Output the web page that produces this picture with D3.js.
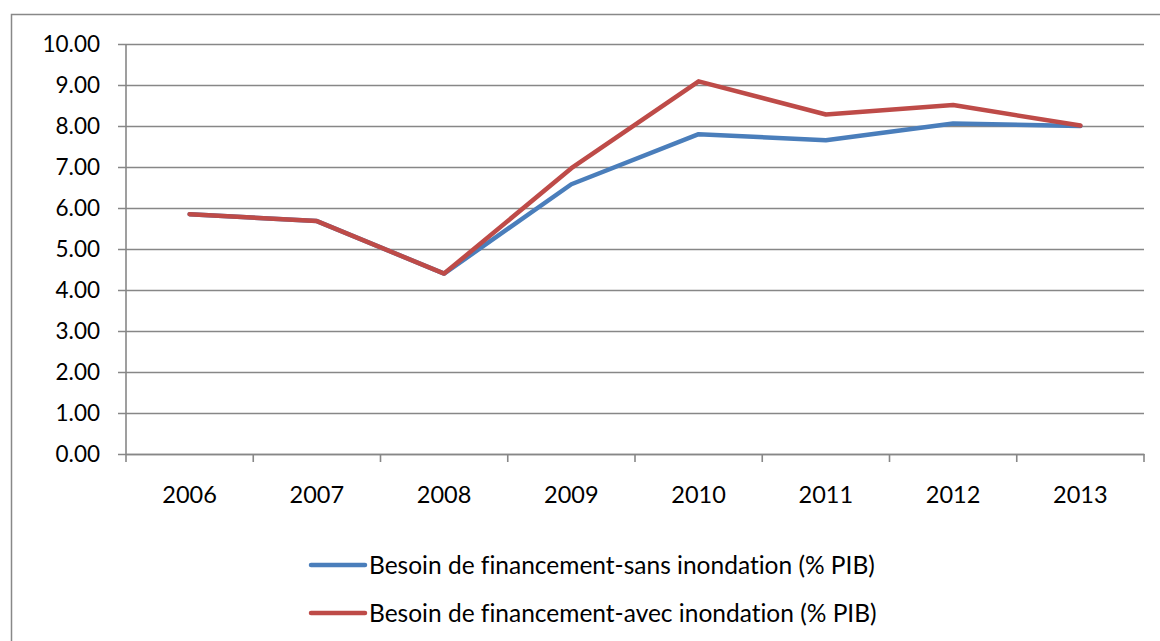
<!DOCTYPE html>
<html>
<head>
<meta charset="utf-8">
<script src="https://cdn.jsdelivr.net/npm/d3@7.9.0/dist/d3.min.js"></script>
<style>
  body { margin: 0; background: #fff; }
  svg text { font-family: Lato, "Open Sans", sans-serif; fill: #000; font-variant-ligatures: none; }
</style>
</head>
<body>
<svg id="chart" width="1160" height="641"></svg>
<script>
// chart data
const years = ["2006", "2007", "2008", "2009", "2010", "2011", "2012", "2013"];
const sansInondation = [5.85, 5.68, 4.40, 6.58, 7.80, 7.65, 8.06, 8.00];
const avecInondation = [5.85, 5.68, 4.40, 6.97, 9.09, 8.28, 8.51, 8.01];
const seriesNames = [
  "Besoin de financement-sans inondation (% PIB)",
  "Besoin de financement-avec inondation (% PIB)"
];
const seriesColors = ["#4a7ebb", "#be4b48"];
const yTicks = [0, 1, 2, 3, 4, 5, 6, 7, 8, 9, 10];

const svg = d3.select("#chart");
const plot = { left: 126, right: 1144, top: 44, bottom: 454 };

// outer frame
svg.append("rect")
  .attr("x", 11.5).attr("y", 14.5)
  .attr("width", 1160).attr("height", 640)
  .attr("fill", "none")
  .attr("stroke", "#888")
  .attr("stroke-width", 1.5);

const x = d3.scaleBand().domain(years).range([plot.left, plot.right]);
const y = d3.scaleLinear().domain([0, 10]).range([plot.bottom, plot.top]);

// gridlines + y axis
const yAxis = d3.axisLeft(y)
  .tickValues(yTicks)
  .tickFormat(d3.format(".2f"))
  .tickSize(plot.right - plot.left + 8)
  .tickPadding(18);

const gy = svg.append("g")
  .attr("transform", `translate(${plot.right},0)`)
  .call(yAxis);
gy.select(".domain").remove();
gy.selectAll(".tick line")
  .attr("stroke", "#878787")
  .attr("stroke-width", 1.6);
gy.selectAll(".tick text")
  .attr("x", -(plot.right - plot.left) - 26)
  .attr("font-size", 22.5);

// vertical axis line
svg.append("line")
  .attr("x1", plot.left).attr("x2", plot.left)
  .attr("y1", plot.top).attr("y2", plot.bottom)
  .attr("stroke", "#878787").attr("stroke-width", 1.6);

// x axis
const gx = svg.append("g")
  .attr("transform", `translate(0,${plot.bottom})`)
  .call(d3.axisBottom(x).tickSize(0).tickPadding(32));
gx.select(".domain")
  .attr("stroke", "#878787").attr("stroke-width", 1.6);
gx.selectAll(".tick text").attr("font-size", 23.5);

// category boundary ticks
svg.append("g").selectAll("line")
  .data(years.concat(["end"]))
  .join("line")
  .attr("x1", (d, i) => i < years.length ? x(d) : x(years[years.length - 1]) + x.bandwidth())
  .attr("x2", (d, i) => i < years.length ? x(d) : x(years[years.length - 1]) + x.bandwidth())
  .attr("y1", plot.bottom).attr("y2", plot.bottom + 8)
  .attr("stroke", "#878787").attr("stroke-width", 1.6);

// lines
const line = d3.line()
  .x((d, i) => x(years[i]) + x.bandwidth() / 2)
  .y(d => y(d));

[sansInondation, avecInondation].forEach((vals, i) => {
  svg.append("path")
    .datum(vals)
    .attr("d", line)
    .attr("fill", "none")
    .attr("stroke", seriesColors[i])
    .attr("stroke-width", 4.5)
    .attr("stroke-linejoin", "round")
    .attr("stroke-linecap", "round");
});

// legend
const legend = svg.append("g");
seriesNames.forEach((name, i) => {
  const ly = 565 + i * 48;
  legend.append("line")
    .attr("x1", 311).attr("x2", 365)
    .attr("y1", ly).attr("y2", ly)
    .attr("stroke", seriesColors[i])
    .attr("stroke-width", 4.5)
    .attr("stroke-linecap", "round");
  legend.append("text")
    .attr("x", 369).attr("y", ly)
    .attr("dy", "0.35em")
    .attr("font-size", 24.5)
    .text(name);
});
</script>
</body>
</html>
